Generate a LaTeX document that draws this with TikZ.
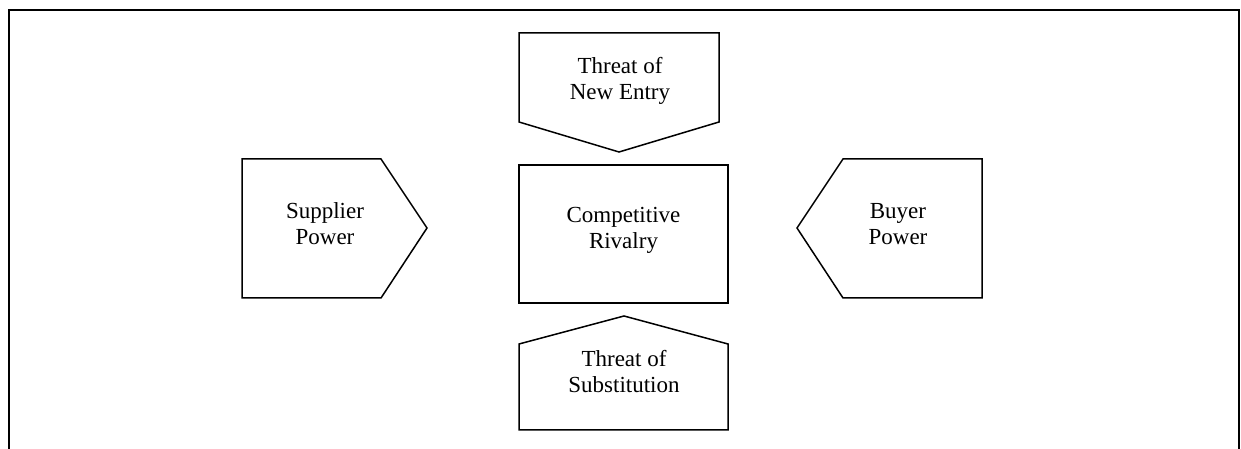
\documentclass[tikz,border=0pt]{standalone}
\usepackage{fontspec}
\setmainfont{Liberation Serif}
\usetikzlibrary{calc}

\begin{document}
\begin{tikzpicture}[
      x=1pt, y=1pt,
      frame/.style = {
        draw=black,
        line width=2pt,
      },
      body/.style = {
        draw=none,
        inner sep=0pt,
        outer sep=0pt,
      },
      force/.style = {
        draw=black,
        line width=1.5pt,
        line join=miter,
      },
      lbl/.style = {
        align=center,
        inner sep=0pt,
        font=\fontsize{23}{26}\selectfont,
      },
    ]
      \useasboundingbox (0, 0) rectangle (1241, 449);
      % outer frame, open at the bottom
      \coordinate (fbl) at (9, -2);
      \coordinate (ftl) at (9, 439);
      \coordinate (ftr) at (1239, 439);
      \coordinate (fbr) at (1239, -2);
      \draw[frame] (fbl) -- (ftl) -- (ftr) -- (fbr);

      % shape bodies
      \node[body, minimum width=209, minimum height=138] (riv) at (623.5, 215) {};
      \node[body, minimum width=200, minimum height=89] (ent) at (619, 371.5) {};
      \node[body, minimum width=209, minimum height=86] (sub) at (623.5, 62) {};
      \node[body, minimum width=139, minimum height=139] (sup) at (311.5, 220.5) {};
      \node[body, minimum width=139, minimum height=139] (buy) at (912.5, 220.5) {};
      \coordinate (ent tip) at (619, 297);
      \coordinate (sub tip) at (624, 133);
      \coordinate (sup tip) at (427, 221);
      \coordinate (buy tip) at (797, 221);

      % outlines
      \draw[force] (riv.north west) rectangle (riv.south east);
      \draw[force] (ent.north west) -- (ent.north east) -- (ent.south east) -- (ent tip) -- (ent.south west) -- cycle;
      \draw[force] (sub.south west) -- (sub.south east) -- (sub.north east) -- (sub tip) -- (sub.north west) -- cycle;
      \draw[force] (sup.north west) -- (sup.north east) -- (sup tip) -- (sup.south east) -- (sup.south west) -- cycle;
      \draw[force] (buy.north east) -- (buy.north west) -- (buy tip) -- (buy.south west) -- (buy.south east) -- cycle;

      % texts
      \node[lbl] (rivT) at (623.5, 219) {Competitive\\Rivalry};
      \node[lbl] (entT) at (620, 368) {Threat of\\New Entry};
      \node[lbl] (subT) at (624, 77) {Threat of\\Substitution};
      \node[lbl] (supT) at (325, 225) {Supplier\\Power};
      \node[lbl] (buyT) at (898, 225) {Buyer\\Power};

    \end{tikzpicture}
\end{document}
